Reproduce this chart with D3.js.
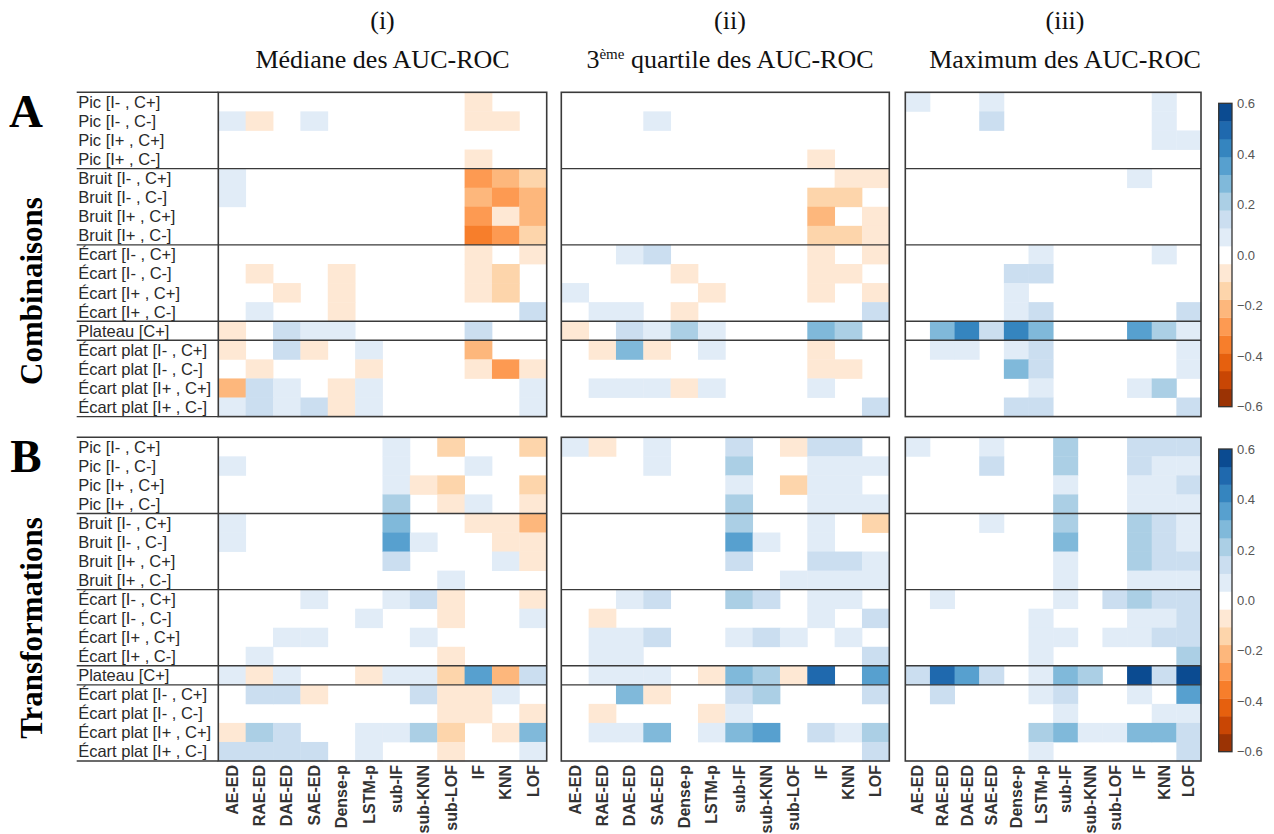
<!DOCTYPE html>
<html><head><meta charset="utf-8">
<script src="https://cdn.jsdelivr.net/npm/d3@7"></script>
<style>body{margin:0;background:#fff}</style>
</head><body><svg id="c" width="1274" height="834"></svg>
<script>
const rowLabels = ["Pic [I- , C+]","Pic [I- , C-]","Pic [I+ , C+]","Pic [I+ , C-]",
  "Bruit [I- , C+]","Bruit [I- , C-]","Bruit [I+ , C+]","Bruit [I+ , C-]",
  "Écart [I- , C+]","Écart [I- , C-]","Écart [I+ , C+]","Écart [I+ , C-]",
  "Plateau [C+]",
  "Écart plat [I- , C+]","Écart plat [I- , C-]","Écart plat [I+ , C+]","Écart plat [I+ , C-]"];
const methods = ["AE-ED","RAE-ED","DAE-ED","SAE-ED","Dense-p","LSTM-p","sub-IF","sub-KNN","sub-LOF","IF","KNN","LOF"];
const panelNums = ["(i)","(ii)","(iii)"];
const blockLetters = ["A","B"];
const blockNames = ["Combinaisons","Transformations"];
const cbTicks = [0.6,0.4,0.2,0,-0.2,-0.4,-0.6];
const palette = ["#9b3304","#c94604","#e6600e","#f77e2b","#fd9a52","#fdb77c","#fdd5ab","#fee8d4",
  "#ffffff","#e1ecf7","#cbdef0","#abcfe5","#80b9da","#57a0cf","#3585bf","#1f69ae","#0b4b91"];

// Combinaisons
const medianA = [
[0,0,0,0,0,0,0,0,0,-.07,0,0],
[.07,-.07,0,.07,0,0,0,0,0,-.07,-.07,0],
[0,0,0,0,0,0,0,0,0,0,0,0],
[0,0,0,0,0,0,0,0,0,-.07,0,0],
[.07,0,0,0,0,0,0,0,0,-.28,-.21,-.14],
[.07,0,0,0,0,0,0,0,0,-.21,-.28,-.21],
[0,0,0,0,0,0,0,0,0,-.28,-.07,-.21],
[0,0,0,0,0,0,0,0,0,-.35,-.28,-.14],
[0,0,0,0,0,0,0,0,0,-.07,0,-.07],
[0,-.07,0,0,-.07,0,0,0,0,-.07,-.14,0],
[0,0,-.07,0,-.07,0,0,0,0,-.07,-.14,0],
[0,.07,0,0,-.07,0,0,0,0,0,0,.14],
[-.07,0,.14,.07,.07,0,0,0,0,.14,0,0],
[-.07,0,.14,-.07,0,.07,0,0,0,-.21,0,0],
[0,-.07,0,0,0,-.07,0,0,0,-.07,-.28,-.07],
[-.21,.14,.07,0,-.07,.07,0,0,0,0,0,.07],
[.07,.14,.07,.14,-.07,.07,0,0,0,0,0,.07]];
const q3A = [
[0,0,0,0,0,0,0,0,0,0,0,0],
[0,0,0,.07,0,0,0,0,0,0,0,0],
[0,0,0,0,0,0,0,0,0,0,0,0],
[0,0,0,0,0,0,0,0,0,-.07,0,0],
[0,0,0,0,0,0,0,0,0,0,-.07,-.07],
[0,0,0,0,0,0,0,0,0,-.14,-.14,0],
[0,0,0,0,0,0,0,0,0,-.21,0,-.07],
[0,0,0,0,0,0,0,0,0,-.14,-.14,-.07],
[0,0,.07,.14,0,0,0,0,0,-.07,0,-.07],
[0,0,0,0,-.07,0,0,0,0,-.07,-.07,0],
[.07,0,0,0,0,-.07,0,0,0,-.07,0,-.07],
[0,.07,.07,0,-.07,0,0,0,0,0,0,.14],
[-.07,0,.14,.07,.21,.07,0,0,0,.28,.21,0],
[0,-.07,.28,-.07,0,.07,0,0,0,-.07,0,0],
[0,0,0,0,0,0,0,0,0,-.07,-.07,0],
[0,.07,.07,.07,-.07,.07,0,0,0,.07,0,0],
[0,0,0,0,0,0,0,0,0,0,0,.14]];
const maxA = [
[.07,0,0,.07,0,0,0,0,0,0,.07,0],
[0,0,0,.14,0,0,0,0,0,0,.07,0],
[0,0,0,0,0,0,0,0,0,0,.07,.07],
[0,0,0,0,0,0,0,0,0,0,0,0],
[0,0,0,0,0,0,0,0,0,.07,0,0],
[0,0,0,0,0,0,0,0,0,0,0,0],
[0,0,0,0,0,0,0,0,0,0,0,0],
[0,0,0,0,0,0,0,0,0,0,0,0],
[0,0,0,0,0,.07,0,0,0,0,.07,0],
[0,0,0,0,.14,.14,0,0,0,0,0,0],
[0,0,0,0,.07,0,0,0,0,0,0,0],
[0,0,0,0,.07,.14,0,0,0,0,0,.14],
[0,.28,.42,.14,.42,.28,0,0,0,.35,.21,.07],
[0,.07,.07,0,.07,.14,0,0,0,0,0,.07],
[0,0,0,0,.28,.14,0,0,0,0,0,.07],
[0,0,0,0,0,.07,0,0,0,.07,.21,0],
[0,0,0,0,.14,.14,0,0,0,0,0,.14]];
// Transformations
const medianB = [
[0,0,0,0,0,0,.07,0,-.14,0,0,-.14],
[.07,0,0,0,0,0,.07,0,0,.07,0,0],
[0,0,0,0,0,0,.07,-.07,-.14,0,0,-.14],
[0,0,0,0,0,0,.21,0,-.07,.07,0,-.07],
[.07,0,0,0,0,0,.28,0,0,-.07,-.07,-.21],
[.07,0,0,0,0,0,.35,.07,0,0,-.07,-.07],
[0,0,0,0,0,0,.14,0,0,0,.07,-.07],
[0,0,0,0,0,0,0,0,.07,0,0,0],
[0,0,0,.07,0,0,.07,.14,-.07,0,0,-.07],
[0,0,0,0,0,.07,0,0,-.07,0,0,.07],
[0,0,.07,.07,0,0,0,.07,0,0,0,0],
[0,.07,0,0,0,0,0,0,-.07,0,0,0],
[.07,-.07,.07,0,0,-.07,.07,.07,-.14,.35,-.21,.14],
[0,.14,.14,-.07,0,0,0,.14,-.07,-.07,.07,0],
[0,0,0,0,0,0,0,0,-.07,-.07,0,-.07],
[-.07,.21,.14,0,0,.07,.07,.21,-.14,0,-.07,.28],
[.14,.14,.14,.14,0,.07,0,0,-.07,0,0,.07]];
const q3B = [
[.07,-.07,0,.07,0,0,.14,0,-.07,.14,.14,0],
[0,0,0,.07,0,0,.21,0,0,.07,.07,.07],
[0,0,0,0,0,0,.07,0,-.14,.07,.07,0],
[0,0,0,0,0,0,.21,0,0,.07,.07,.07],
[0,0,0,0,0,0,.21,0,0,.07,0,-.14],
[0,0,0,0,0,0,.35,.07,0,.07,0,0],
[0,0,0,0,0,0,.14,0,0,.14,.14,.07],
[0,0,0,0,0,0,0,0,.07,.07,.07,.07],
[0,0,.07,.14,0,0,.21,.14,0,.07,.07,0],
[0,-.07,0,0,0,0,0,0,0,.07,0,.14],
[0,.07,.07,.14,0,0,.07,.14,.07,0,.07,0],
[0,.07,.07,0,0,0,0,0,0,0,0,.14],
[0,.07,.07,.07,0,-.07,.28,.21,-.07,.49,0,.35],
[0,0,.28,-.07,0,0,.14,.21,0,0,0,.14],
[0,-.07,0,0,0,-.07,.07,0,0,0,0,0],
[0,.07,.07,.28,0,.07,.28,.35,0,.14,.07,.21],
[0,0,0,0,0,0,0,0,0,0,0,.14]];
const maxB = [
[.07,0,0,.07,0,0,.21,0,0,.14,.14,.14],
[0,0,0,.14,0,0,.21,0,0,.14,.07,.07],
[0,0,0,0,0,0,.07,0,0,.07,.07,.14],
[0,0,0,0,0,0,.21,0,0,.07,.07,.07],
[0,0,0,.07,0,0,.21,0,0,.21,.14,.07],
[0,0,0,0,0,0,.28,0,0,.21,.14,.07],
[0,0,0,0,0,0,.07,0,0,.21,.14,.14],
[0,0,0,0,0,0,.07,0,0,.07,.07,.07],
[0,.07,0,0,0,0,.07,0,.14,.21,.14,.14],
[0,0,0,0,0,.07,0,0,0,.07,.07,.14],
[0,0,0,0,0,.07,.07,0,.07,.07,.14,.14],
[0,0,0,0,0,.07,0,0,0,0,0,.21],
[.14,.49,.35,.14,0,.07,.28,.21,0,.56,.14,.56],
[0,.14,0,0,0,.07,.14,0,0,.07,0,.35],
[0,0,0,0,0,0,.07,0,0,0,.07,.07],
[0,0,0,0,0,.21,.28,.07,.07,.28,.28,.14],
[0,0,0,0,0,.07,0,0,0,0,0,.14]];

const blocks = [[medianA,q3A,maxA],[medianB,q3B,maxB]];

const svg = d3.select("#c");
const color = d3.scaleQuantize().domain([-0.6,0.6]).range(palette);
const panelX = [[218.3,546.7],[561.3,889.3],[905.3,1201]];
const blockY = [[92.3,416.6],[437.3,761]];
const labelX0 = 76.7;
const cbX = [1218.7,1232];
const cbY = [[103.3,406.7],[449,751.7]];
const lineCol = "#3a3a3a";

// group boundaries computed from row label families
const fam = rowLabels.map(l => l.split(" [")[0]);
const bounds = fam.map((f,i)=> i>0 && f!==fam[i-1] ? i : -1).filter(i=>i>0);

// titles
const titleCx = [382.5, 730, 1065];
panelNums.forEach((t,i)=>{
  svg.append("text").attr("x",titleCx[i]).attr("y",29).attr("text-anchor","middle")
    .attr("font-family","Liberation Serif, serif").attr("font-size",26).attr("fill","#111").text(t);
});
const st = svg.append("g").attr("font-family","Liberation Serif, serif").attr("font-size",26).attr("fill","#111");
st.append("text").attr("x",titleCx[0]).attr("y",68).attr("text-anchor","middle").text("Médiane des AUC-ROC");
const t2 = st.append("text").attr("x",titleCx[1]).attr("y",68).attr("text-anchor","middle");
t2.append("tspan").text("3");
t2.append("tspan").attr("font-size",15).attr("dy",-9).text("ème");
t2.append("tspan").attr("dy",9).text(" quartile des AUC-ROC");
st.append("text").attr("x",titleCx[2]).attr("y",68).attr("text-anchor","middle").text("Maximum des AUC-ROC");

blocks.forEach((panels,b)=>{
  const [y0,y1] = blockY[b];
  const y = d3.scaleBand().domain(d3.range(rowLabels.length)).range([y0,y1]);
  const g = svg.append("g");
  g.append("text").attr("x",26).attr("y",y0+35).attr("text-anchor","middle")
    .attr("font-family","Liberation Serif, serif").attr("font-weight","bold").attr("font-size",47).attr("fill","#000")
    .text(blockLetters[b]);
  const cy = b===0 ? 291 : 628;
  g.append("text").attr("transform",`translate(42,${cy}) rotate(-90)`).attr("text-anchor","middle")
    .attr("font-family","Liberation Serif, serif").attr("font-weight","bold").attr("font-size",31).attr("fill","#000")
    .text(blockNames[b]);
  g.selectAll(".rl").data(rowLabels).enter().append("text")
    .attr("x",labelX0+1.5).attr("y",(d,i)=>y(i)+y.bandwidth()/2)
    .attr("dy","0.36em").attr("font-family","Liberation Sans, Arial, sans-serif").attr("font-size",16.5)
    .attr("fill","#2a2a2a").text(d=>d);
  const hl = [0, ...bounds, rowLabels.length];
  hl.forEach(i=>{
    const yy = i===rowLabels.length ? y1 : y(i);
    g.append("line").attr("x1",labelX0).attr("x2",panelX[0][0]).attr("y1",yy).attr("y2",yy)
      .attr("stroke",lineCol).attr("stroke-width",1.4);
  });
  panels.forEach((mat,p)=>{
    const x = d3.scaleBand().domain(methods).range(panelX[p]);
    const cells = [];
    mat.forEach((row,r)=>row.forEach((v,c)=>cells.push({r,c,v})));
    g.selectAll(null).data(cells.filter(d=>d.v!==0)).enter().append("rect")
      .attr("x",d=>x(methods[d.c])).attr("y",d=>y(d.r))
      .attr("width",x.bandwidth()+0.4).attr("height",y.bandwidth()+0.4)
      .attr("fill",d=>color(d.v));
    bounds.forEach(i=>{
      g.append("line").attr("x1",panelX[p][0]).attr("x2",panelX[p][1]).attr("y1",y(i)).attr("y2",y(i))
        .attr("stroke",lineCol).attr("stroke-width",1.4);
    });
    g.append("rect").attr("x",panelX[p][0]).attr("y",y0).attr("width",panelX[p][1]-panelX[p][0]).attr("height",y1-y0)
      .attr("fill","none").attr("stroke",lineCol).attr("stroke-width",1.6);
    if(b===1){
      methods.forEach(m=>{
        const cx = x(m)+x.bandwidth()/2;
        svg.append("text").attr("transform",`translate(${cx},${y1+4}) rotate(-90)`)
          .attr("text-anchor","end").attr("dy","0.36em")
          .attr("font-family","Liberation Sans, Arial, sans-serif").attr("font-weight","bold").attr("font-size",16)
          .attr("fill","#333").text(m);
      });
    }
  });
  const cs = d3.scaleLinear().domain([-0.6,0.6]).range([cbY[b][1],cbY[b][0]]);
  palette.forEach(col=>{
    const [a,bb] = color.invertExtent(col);
    g.append("rect").attr("x",cbX[0]).attr("width",cbX[1]-cbX[0])
      .attr("y",cs(bb)).attr("height",cs(a)-cs(bb)+0.3).attr("fill",col);
  });
  g.append("rect").attr("x",cbX[0]).attr("y",cbY[b][0]).attr("width",cbX[1]-cbX[0]).attr("height",cbY[b][1]-cbY[b][0])
    .attr("fill","none").attr("stroke","#333").attr("stroke-width",1.3);
  const ax = d3.axisRight(cs).tickValues(cbTicks).tickSize(0).tickPadding(5)
    .tickFormat(d=>d3.format(".1f")(d).replace("-","−"));
  const ag = g.append("g").attr("transform",`translate(${cbX[1]},0)`).call(ax);
  ag.select(".domain").remove();
  ag.selectAll("text").attr("font-family","Liberation Sans, Arial, sans-serif").attr("font-size",13).attr("fill","#555");
});
</script></body></html>
